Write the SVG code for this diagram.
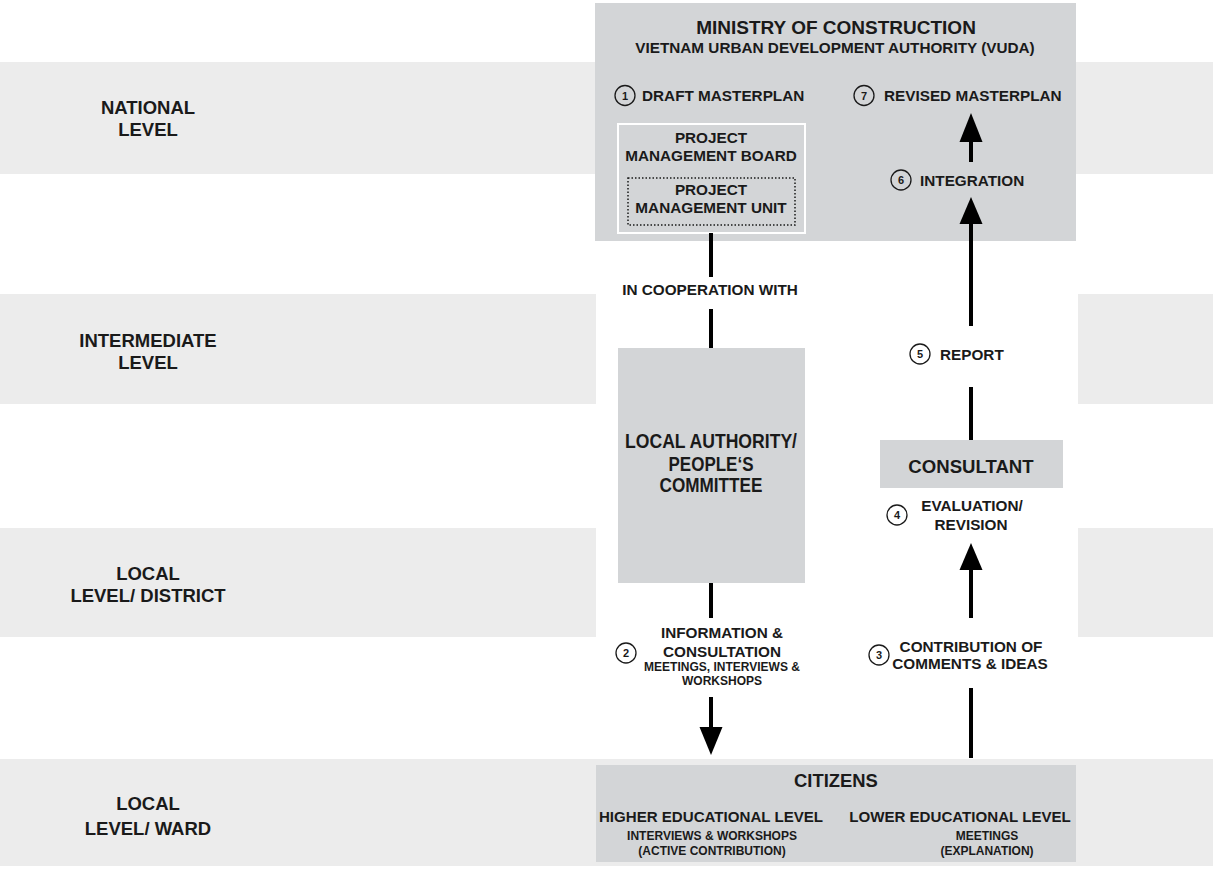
<svg xmlns="http://www.w3.org/2000/svg" width="1213" height="870" viewBox="0 0 1213 870">
<style>
text{font-family:"Liberation Sans",Arial,sans-serif;font-weight:bold;fill:#1a1a1a}
.band{fill:#ececec}
.box{fill:#d3d5d7}
.lvl{font-size:18.5px;text-anchor:middle}
.c{text-anchor:middle}
.num{fill:none;stroke:#1a1a1a;stroke-width:1.3}
.numt{font-size:11px;text-anchor:middle}
.ln{stroke:#000;stroke-width:4;fill:none}
.lbl{font-size:15.3px}
.sm{font-size:12px}
</style>
<rect width="1213" height="870" fill="#fff"/>
<g id="bands">
<rect class="band" x="0" y="62" width="1213" height="112"/>
<rect class="band" x="0" y="294" width="596" height="110"/>
<rect class="band" x="1078" y="294" width="135" height="110"/>
<rect class="band" x="0" y="528" width="596" height="109"/>
<rect class="band" x="1078" y="528" width="135" height="109"/>
<rect class="band" x="0" y="759" width="1213" height="107"/>
</g>
<g id="level-labels">
<text class="lvl" x="148" y="114">NATIONAL</text>
<text class="lvl" x="148" y="136">LEVEL</text>
<text class="lvl" x="148" y="347">INTERMEDIATE</text>
<text class="lvl" x="148" y="369">LEVEL</text>
<text class="lvl" x="148" y="580">LOCAL</text>
<text class="lvl" x="148" y="602">LEVEL/ DISTRICT</text>
<text class="lvl" x="148" y="810">LOCAL</text>
<text class="lvl" x="148" y="835">LEVEL/ WARD</text>
</g>
<g id="ministry">
<rect class="box" x="595" y="3" width="481" height="238"/>
<text class="c" x="836" y="34" font-size="19">MINISTRY OF CONSTRUCTION</text>
<text class="c" x="835" y="53" font-size="15.3">VIETNAM URBAN DEVELOPMENT AUTHORITY (VUDA)</text>
<circle class="num" cx="625" cy="95.5" r="10"/>
<text class="numt" x="625" y="99.5">1</text>
<text class="lbl" x="642" y="101">DRAFT MASTERPLAN</text>
<circle class="num" cx="864" cy="95.5" r="10"/>
<text class="numt" x="864" y="99.5">7</text>
<text class="lbl" x="884" y="101">REVISED MASTERPLAN</text>
<circle class="num" cx="901" cy="180" r="10"/>
<text class="numt" x="901" y="184">6</text>
<text class="lbl" x="920" y="186">INTEGRATION</text>
</g>
<g id="pmb">
<rect x="618" y="124" width="187" height="109" fill="none" stroke="#fff" stroke-width="2"/>
<text class="c lbl" x="711" y="143">PROJECT</text>
<text class="c lbl" x="711" y="161">MANAGEMENT BOARD</text>
</g>
<g id="pmu">
<rect x="628" y="178" width="167" height="47" fill="none" stroke="#1a1a1a" stroke-width="1.5" stroke-dasharray="1.5,2"/>
<text class="c lbl" x="711" y="195">PROJECT</text>
<text class="c lbl" x="711" y="213">MANAGEMENT UNIT</text>
</g>
<g id="local-authority">
<rect class="box" x="618" y="348" width="187" height="235"/>
<text class="c" x="711" y="448" font-size="20.5" textLength="172" lengthAdjust="spacingAndGlyphs">LOCAL AUTHORITY/</text>
<text class="c" x="711" y="471" font-size="20.5" textLength="85" lengthAdjust="spacingAndGlyphs">PEOPLE‘S</text>
<text class="c" x="711" y="492" font-size="20.5" textLength="103" lengthAdjust="spacingAndGlyphs">COMMITTEE</text>
</g>
<g id="consultant">
<rect class="box" x="880" y="440" width="183" height="48"/>
<text class="c" x="971" y="473" font-size="18.6">CONSULTANT</text>
</g>
<g id="citizens">
<rect class="box" x="596" y="765" width="480" height="97"/>
<text class="c" x="836" y="787" font-size="18.4">CITIZENS</text>
<text class="c" x="711" y="822" font-size="15.1">HIGHER EDUCATIONAL LEVEL</text>
<text class="c" x="960" y="822" font-size="15.1">LOWER EDUCATIONAL LEVEL</text>
<text class="c sm" x="712" y="840">INTERVIEWS &amp; WORKSHOPS</text>
<text class="c sm" x="712" y="855">(ACTIVE CONTRIBUTION)</text>
<text class="c sm" x="987" y="840">MEETINGS</text>
<text class="c sm" x="987" y="855">(EXPLANATION)</text>
</g>
<g id="connectors">
<line class="ln" x1="711" y1="233" x2="711" y2="277"/>
<line class="ln" x1="711" y1="309" x2="711" y2="348"/>
<line class="ln" x1="711" y1="583" x2="711" y2="618"/>
<line class="ln" x1="711" y1="697" x2="711" y2="728"/>
<path d="M699.5,727 L722.5,727 L711,755 Z" fill="#000"/>
<line class="ln" x1="971" y1="758" x2="971" y2="688"/>
<line class="ln" x1="971" y1="618" x2="971" y2="569"/>
<path d="M959.5,570 L982.5,570 L971,543 Z" fill="#000"/>
<line class="ln" x1="971" y1="440" x2="971" y2="387"/>
<line class="ln" x1="971" y1="326" x2="971" y2="223"/>
<path d="M959.5,224 L982.5,224 L971,197 Z" fill="#000"/>
<line class="ln" x1="971" y1="162" x2="971" y2="141"/>
<path d="M959.5,142 L982.5,142 L971,113 Z" fill="#000"/>
</g>
<g id="connector-labels">
<text class="c lbl" x="710" y="295">IN COOPERATION WITH</text>
<circle class="num" cx="920" cy="354" r="10"/>
<text class="numt" x="920" y="358">5</text>
<text class="lbl" x="940" y="360">REPORT</text>
<circle class="num" cx="897" cy="515" r="10"/>
<text class="numt" x="897" y="519">4</text>
<text class="c lbl" x="972" y="511">EVALUATION/</text>
<text class="c lbl" x="971" y="530">REVISION</text>
<circle class="num" cx="879" cy="655" r="10"/>
<text class="numt" x="879" y="659">3</text>
<text class="c lbl" x="971" y="652">CONTRIBUTION OF</text>
<text class="c lbl" x="970" y="669">COMMENTS &amp; IDEAS</text>
<circle class="num" cx="626" cy="653" r="10"/>
<text class="numt" x="626" y="657">2</text>
<text class="c lbl" x="722" y="638">INFORMATION &amp;</text>
<text class="c lbl" x="722" y="657">CONSULTATION</text>
<text class="c sm" x="722" y="671">MEETINGS, INTERVIEWS &amp;</text>
<text class="c sm" x="722" y="685">WORKSHOPS</text>
</g>
</svg>
